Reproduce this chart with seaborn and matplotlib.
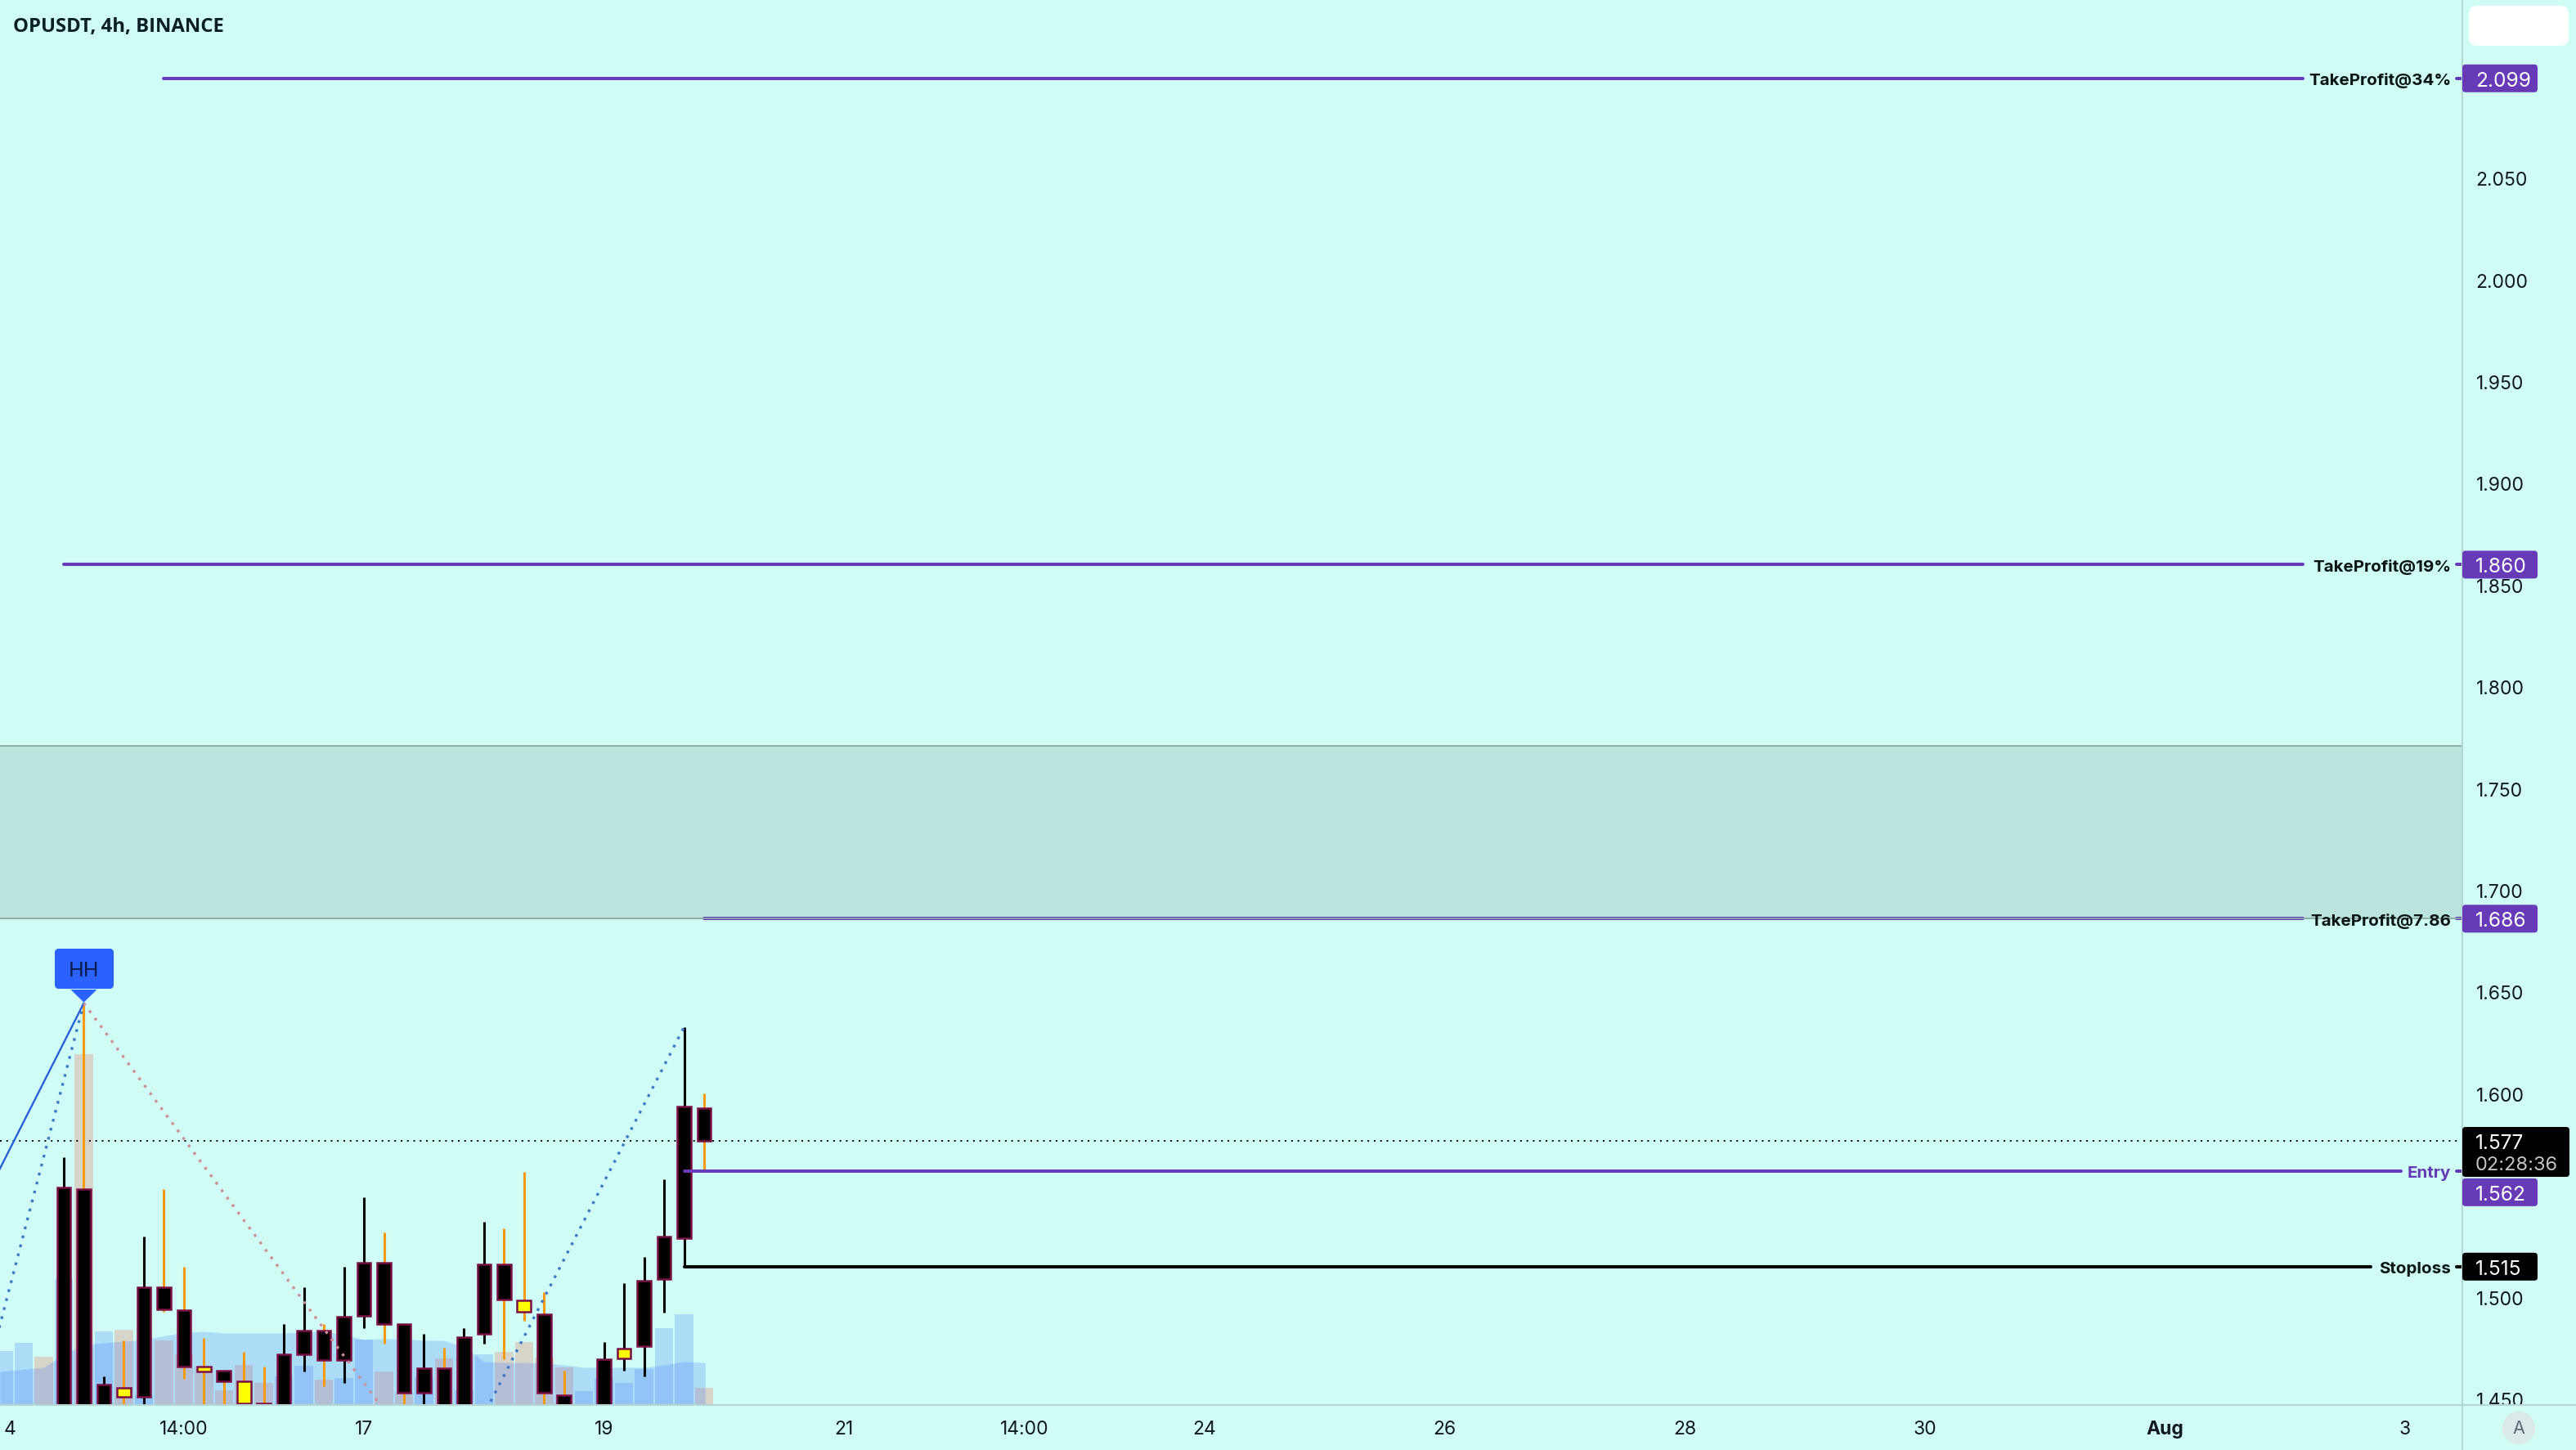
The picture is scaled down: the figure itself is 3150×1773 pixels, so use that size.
import pandas as pd
import matplotlib
matplotlib.use('Agg')
import matplotlib.pyplot as plt
import seaborn as sns
from matplotlib.lines import Line2D
from matplotlib.patches import FancyBboxPatch, Polygon
from matplotlib.transforms import Bbox, IdentityTransform

W, H = 3150, 1774
AXIS_X, AXIS_Y = 3011, 1719

BG = '#CFFCF5'
ZONE = '#BCE4DF'
PURPLE = '#673AB7'
ORANGE = '#F59A12'
MAROON = '#7B0F45'
TEXT = '#131722'

# candles (the ones running off the bottom are guesses)
candle_idx = list(range(33))
body_top = [1.5538, 1.5530, 1.4569, 1.4554, 1.5047, 1.5047, 1.4938, 1.4657, 1.4638, 1.4588, 1.4477,
            1.4718, 1.4837, 1.4837, 1.4905, 1.5170, 1.5170, 1.4867, 1.4649, 1.4649, 1.4805, 1.5160,
            1.5160, 1.4986, 1.4918, 1.4517, 1.4380, 1.4696, 1.4748, 1.5079, 1.5297, 1.5938, 1.5928]
body_bot = [1.4200, 1.4200, 1.4300, 1.4510, 1.4510, 1.4940, 1.4658, 1.4636, 1.4588, 1.4477, 1.4400,
            1.4200, 1.4718, 1.4690, 1.4690, 1.4908, 1.4867, 1.4529, 1.4529, 1.4300, 1.4200, 1.4818,
            1.4988, 1.4929, 1.4529, 1.4300, 1.4200, 1.4300, 1.4698, 1.4758, 1.5088, 1.5291, 1.5769]
wick_hi = [1.5688, 1.6445, 1.4610, 1.4789, 1.5298, 1.5530, 1.5149, 1.4799, 1.4638, 1.4732, 1.4658,
           1.4866, 1.5047, 1.4866, 1.5149, 1.5489, 1.5317, 1.4867, 1.4820, 1.4752, 1.4846, 1.5370,
           1.5338, 1.5614, 1.5026, 1.4639, 1.4400, 1.4779, 1.5067, 1.5199, 1.5579, 1.6328, 1.6003]
wick_lo = [1.4100, 1.4100, 1.4300, 1.4400, 1.4400, 1.4930, 1.4598, 1.4400, 1.4400, 1.4400, 1.4300,
           1.4100, 1.4633, 1.4562, 1.4578, 1.4849, 1.4773, 1.4400, 1.4400, 1.4300, 1.4200, 1.4773,
           1.4695, 1.4883, 1.4400, 1.4300, 1.4200, 1.4300, 1.4639, 1.4611, 1.4923, 1.5151, 1.5629]
orange_wicks = [1, 3, 5, 6, 7, 8, 9, 10, 13, 16, 17, 19, 22, 23, 24, 25, 32]
yellow_bodies = [3, 7, 9, 10, 23, 28]

# volume pane (the unit is just pixels of the picture)
volume_idx = list(range(-3, 33))
volume = [66, 76, 59, 154, 429, 90, 92, 12, 79, 62, 47, 18, 49, 27, 35, 48, 31, 33,
          80, 41, 15, 35, 57, 18, 62, 65, 77, 58, 46, 17, 33, 27, 44, 94, 111, 21]
volume_kind = ['up', 'up', 'down', 'up', 'down', 'up', 'down', 'up', 'down', 'down', 'down', 'down',
               'down', 'down', 'up', 'up', 'down', 'up', 'up', 'down', 'down', 'up', 'down', 'up',
               'up', 'down', 'down', 'down', 'down', 'up', 'up', 'up', 'up', 'up', 'up', 'down']
volume_ma_idx = [-3.19, -1, 0, 1, 4, 6, 7, 8, 11, 13, 14, 15, 16, 17, 18, 19, 20, 21, 22, 23,
                 24, 25, 26, 27, 28, 29, 30, 31, 32.05]
volume_ma = [41, 46, 62, 74, 80, 89, 90, 88, 88, 90, 86, 80, 81, 81, 79, 79, 71, 53, 52, 52,
             51, 49, 46, 46, 46, 46, 49, 53, 52]

# levels
tp_levels = [2.099, 1.860, 1.686]
tp_starts = [5, 0, 32]
tp_labels = ['TakeProfit@34%', 'TakeProfit@19%', 'TakeProfit@7.86']
entry_price = 1.562
stop_price = 1.515
last_price = 1.577
zone_top, zone_bot = 1.7709, 1.686

# zigzag pivots
solid_x, solid_y = [-4, 1], [1.5475, 1.6445]
rise_x, rise_y = [-4, 1], [1.4558, 1.6445]
fall_x, fall_y = [1, 19], [1.6445, 1.4044]
rise2_x, rise2_y = [19, 31], [1.4044, 1.6328]

# axes ticks
x_ticks = [-2.7, 6, 15, 27, 39, 48, 57, 69, 81, 93, 105, 117]
x_labels = ['4', '14:00', '17', '19', '21', '14:00', '24', '26', '28', '30', 'Aug', '3']
y_ticks = [1.45, 1.50, 1.60, 1.65, 1.70, 1.75, 1.80, 1.85, 1.90, 1.95, 2.00, 2.05]

sns.set_theme(style='white')
plt.rcParams['font.family'] = ['Inter', 'DejaVu Sans']

fig = plt.figure(figsize=(W / 100, H / 100), dpi=100, facecolor=BG)
rect = [0, (H - AXIS_Y) / H, AXIS_X / W, AXIS_Y / H]
vol_ax = fig.add_axes(rect, zorder=1)
ax = fig.add_axes(rect, zorder=2)
ax.patch.set_visible(False)
vol_ax.set_facecolor(BG)

XLIM = (-3.1876, 119.86)
YLIM = (1.44699, 2.1379)

# volume
vol_df = pd.DataFrame({'i': volume_idx, 'vol': volume, 'kind': volume_kind})
sns.barplot(data=vol_df, x='i', y='vol', hue='kind', hue_order=['up', 'down'],
            palette={'up': '#2962FF', 'down': '#F9391F'}, native_scale=True, dodge=False,
            width=0.92, alpha=0.2, saturation=1, linewidth=0, legend=False, ax=vol_ax)
vol_ax.fill_between(volume_ma_idx, 0, volume_ma, color='#2962FF', alpha=0.2, linewidth=0)
vol_ax.set_xlim(XLIM)
vol_ax.set_ylim(0, AXIS_Y)
vol_ax.axis('off')

# supply zone
ax.axhspan(zone_bot, zone_top, facecolor=ZONE, edgecolor='none', zorder=0.5)
ax.axhline(zone_top, color='#8DA8A5', lw=1.3, zorder=0.6)
ax.axhline(zone_bot, color='#8DA8A5', lw=1.3, zorder=5.5)

# last price
ax.axhline(last_price, color='black', lw=1.4, ls=(0, (1, 3)), zorder=1)

# candles
wick_colors = [ORANGE if i in orange_wicks else 'black' for i in candle_idx]
body_colors = ['#FFFF00' if i in yellow_bodies else 'black' for i in candle_idx]
ax.vlines(candle_idx, wick_lo, wick_hi, colors=wick_colors, lw=2.2, zorder=2)
ax.bar(candle_idx, [t - b for t, b in zip(body_top, body_bot)], bottom=body_bot, width=0.68,
       color=body_colors, edgecolor=MAROON, linewidth=1.8, zorder=3)

# zigzag
sns.lineplot(x=solid_x, y=solid_y, color='#2A5FD8', lw=1.7, ax=ax, zorder=4)
sns.lineplot(x=rise_x, y=rise_y, color='#3F78C9', lw=2.4, ls=(0, (1, 2.4)), ax=ax, zorder=4)
sns.lineplot(x=fall_x, y=fall_y, color='#CF8F96', lw=2.4, ls=(0, (1, 2.4)), ax=ax, zorder=4)
sns.lineplot(x=rise2_x, y=rise2_y, color='#3F78C9', lw=2.4, ls=(0, (1, 2.4)), ax=ax, zorder=4)

# level lines
LEVEL_TICK = 119.57
for price, start in zip(tp_levels, tp_starts):
    sns.lineplot(x=[start, 111.9], y=[price, price], color=PURPLE, lw=2.9,
                 solid_capstyle='round', ax=ax, zorder=5)
    ax.plot([LEVEL_TICK, XLIM[1]], [price, price], color=PURPLE, lw=2.9, zorder=5)
sns.lineplot(x=[31, 116.8], y=[entry_price, entry_price], color=PURPLE, lw=2.9,
             solid_capstyle='round', ax=ax, zorder=5)
ax.plot([LEVEL_TICK, XLIM[1]], [entry_price, entry_price], color=PURPLE, lw=2.9, zorder=5)
sns.lineplot(x=[31, 115.3], y=[stop_price, stop_price], color='black', lw=2.9,
             solid_capstyle='round', ax=ax, zorder=5)
ax.plot([LEVEL_TICK, XLIM[1]], [stop_price, stop_price], color='black', lw=2.9, zorder=5)

LABEL_X = 119.29
LABEL_SIZE = 14.8
for price, label in zip(tp_levels, tp_labels):
    ax.text(LABEL_X, price, label, ha='right', va='center_baseline', fontsize=LABEL_SIZE, fontweight='bold',
            color='#0B1417', zorder=6)
ax.text(LABEL_X, entry_price, 'Entry', ha='right', va='center_baseline', fontsize=LABEL_SIZE, fontweight='bold',
        color=PURPLE, zorder=6)
ax.text(LABEL_X, stop_price, 'Stoploss', ha='right', va='center_baseline', fontsize=LABEL_SIZE, fontweight='bold',
        color='#0B1417', zorder=6)

# axes
ax.set_xlim(XLIM)
ax.set_ylim(YLIM)
ax.set_xticks(x_ticks)
ax.set_xticklabels(x_labels)
ax.set_yticks(y_ticks)
ax.set_yticklabels([f'{v:.3f}' for v in y_ticks])
ax.yaxis.tick_right()
ax.tick_params(axis='x', length=0, pad=13, labelsize=16.5, labelcolor=TEXT)
ax.tick_params(axis='y', length=0, pad=12, labelsize=16.5, labelcolor=TEXT)
ax.set_xlabel('')
ax.set_ylabel('')
for spine in ax.spines.values():
    spine.set_visible(False)
for tick_label in ax.get_xticklabels():
    if tick_label.get_text() == 'Aug':
        tick_label.set_fontweight('bold')
# the lowest price label is cut off by the time axis
for tick_label in ax.get_yticklabels():
    tick_label.set_clip_box(Bbox([[0, H - AXIS_Y], [W, H]]))
    tick_label.set_clip_on(True)

fig.add_artist(Line2D([AXIS_X / W, AXIS_X / W], [0, 1], color='#B6D6D3', lw=1.5, zorder=3))
fig.add_artist(Line2D([0, 1], [(H - AXIS_Y) / H] * 2, color='#B6D6D3', lw=1.5, zorder=3))


def price_to_px(price):
    return ax.transData.transform((0, price))[1]


def add_tag(price, label, color, right=3103, half=17, offset=0):
    y = price_to_px(price) - offset
    box = FancyBboxPatch((AXIS_X + 4, y - half + 4), right - AXIS_X - 8, 2 * half - 8,
                         boxstyle='round,pad=4,rounding_size=4', facecolor=color, edgecolor='none',
                         transform=IdentityTransform(), zorder=5)
    fig.add_artist(box)
    fig.text(3027 / W, y / H, label, color='white', fontsize=17.6, ha='left', va='center_baseline', zorder=6)


for price in tp_levels:
    add_tag(price, f'{price:.3f}', PURPLE)
add_tag(entry_price, f'{entry_price:.3f}', PURPLE, offset=26)
add_tag(stop_price, f'{stop_price:.3f}', 'black')

# countdown tag
y_last = price_to_px(last_price)
fig.add_artist(FancyBboxPatch((AXIS_X + 4, H - 1440 + 4), 3142 - AXIS_X - 8, 61 - 8,
                              boxstyle='round,pad=4,rounding_size=4', facecolor='black', edgecolor='none',
                              transform=IdentityTransform(), zorder=5))
fig.text(3027 / W, y_last / H, f'{last_price:.3f}', color='white', fontsize=17.6, ha='left',
         va='center_baseline', zorder=6)
fig.text(3027 / W, (H - 1423) / H, '02:28:36', color='#C4C4C4', fontsize=17, ha='left',
         va='center_baseline', zorder=6)

# white box top right
fig.add_artist(FancyBboxPatch((3019 + 10, H - 57 + 10), 122 - 20, 49 - 20,
                              boxstyle='round,pad=10,rounding_size=10', facecolor='white', edgecolor='none',
                              transform=IdentityTransform(), zorder=5))

# HH pivot label
peak_x, peak_y = ax.transData.transform((fall_x[0], fall_y[0]))
fig.add_artist(FancyBboxPatch((67 + 5, H - 1210 + 5), 72 - 10, 49 - 10,
                              boxstyle='round,pad=5,rounding_size=5', facecolor='#2962FF', edgecolor='none',
                              transform=IdentityTransform(), zorder=5))
fig.add_artist(Polygon([[peak_x - 16, H - 1211], [peak_x + 16, H - 1211], [peak_x, peak_y + 1]], closed=True,
                       facecolor='#2962FF', edgecolor='none', transform=IdentityTransform(), zorder=5))
fig.text(peak_x / W, (H - 1188) / H, 'HH', color='#0C1D4F', fontsize=18, ha='center', va='center', zorder=6)

# title
fig.text(16 / W, (H - 33) / H, 'OPUSDT, 4h, BINANCE', family=['Open Sans', 'DejaVu Sans'], fontweight='bold',
         fontsize=17.2, color='#0B1F24', ha='left', va='center', zorder=6)

# auto scale button
fig.add_artist(FancyBboxPatch((3080, H - 1747), 0, 0, boxstyle='circle,pad=20', facecolor='#DCE9EA',
                              edgecolor='none', transform=IdentityTransform(), zorder=5))
fig.text(3080 / W, (H - 1747) / H, 'A', color='#5F6B73', fontsize=15.5, ha='center', va='center', zorder=6)

fig.savefig('out.png', dpi=100, facecolor=BG)
